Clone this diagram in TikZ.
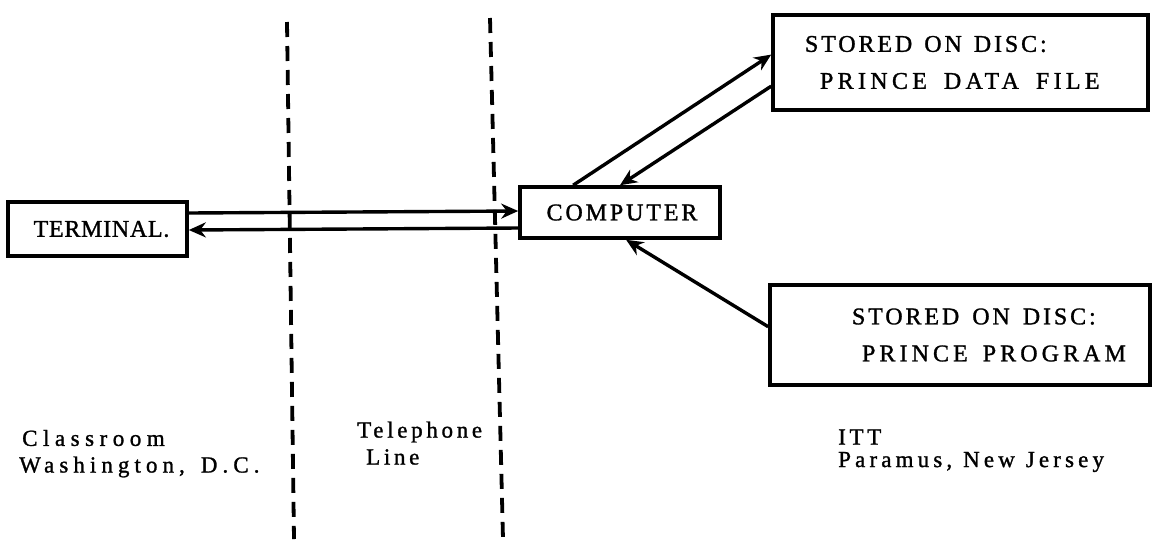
\documentclass[tikz,border=0pt]{standalone}
\usepackage{fontspec}
\setmainfont{Liberation Serif}[LetterSpace=12,FakeBold=1.2]
\usetikzlibrary{arrows.meta,calc}
\newcommand\myboxfont{\fontsize{24}{38}\selectfont}
\newcommand\mylabfont[1]{\fontsize{23}{24}\selectfont\addfontfeature{LetterSpace=#1}}
\newcommand\mywide[2]{\addfontfeature{LetterSpace=#1}\setlength{\spaceskip}{#2}}
\begin{document}
\begin{tikzpicture}[x=1pt,y=-1pt,
  box/.style={draw,line width=3.6pt,inner sep=0pt,font=\myboxfont},
  arr/.style={line width=3.4pt,-{Stealth[length=17pt,width=15pt]}},
  sep/.style={line width=3.8pt,dash pattern=on 15pt off 9pt},
  lab/.style={anchor=west,inner sep=0pt,font=\mylabfont{#1}},
  lab/.default=17]
\useasboundingbox (0,0) rectangle (1155,539);
% separators
\coordinate (s1t) at (287,22);
\coordinate (s1b) at (294,539);
\coordinate (s2t) at (490,18);
\coordinate (s2b) at (503,539);
\draw[sep] (s1t) -- (s1b);
\draw[sep] (s2t) -- (s2b);
% boxes
\node[box,minimum width=179pt,minimum height=54pt] (term) at (97.5,229) {\hspace*{8pt}{\addfontfeature{LetterSpace=3}TERMINAL.}};
\node[box,minimum width=200pt,minimum height=51pt] (comp) at (620,212.5) {\hspace*{4pt}COMPUTER};
\node[box,minimum width=375pt,minimum height=95pt,text width=375pt,align=left] (data) at (960.5,62.5)
  {\hspace*{32pt}{\mywide{12}{12pt}STORED ON DISC:}\\[-1pt]\hspace*{47pt}{\mywide{18}{17pt}PRINCE DATA FILE}};
\node[box,minimum width=380pt,minimum height=100pt,text width=380pt,align=left] (prog) at (960,335)
  {\hspace*{82pt}{\mywide{12}{13pt}STORED ON DISC:}\\[-1pt]\hspace*{92pt}{\mywide{17}{15pt}PRINCE PROGRAM}};
% connectors
\draw[arr] (term.east |- 0,213) -- (comp.west |- 0,211);
\draw[arr] (comp.west |- 0,228) -- (term.east |- 0,230);
\draw[arr] ($(comp.north west)!0.27!(comp.north east)$) -- ($(data.north west)!0.42!(data.south west)$);
\draw[arr] ($(data.north west)!0.74!(data.south west)$) -- ($(comp.north west)!0.5!(comp.north east)$);
\draw[arr] ($(prog.north west)!0.42!(prog.south west)$) -- ($(comp.south west)!0.53!(comp.south east)$);
% labels
\node[lab=24] (l1) at (22,438) {Classroom};
\node[lab=22] (l2) at (19,467) {\setlength{\spaceskip}{16pt}Washington, D.C.};
\node[lab=16] (l3) at (357,432) {Telephone};
\node[lab=16] (l4) at (366,457) {Line};
\node[lab=16] (l5) at (838,437) {ITT};
\node[lab=18] (l6) at (838,462) {\setlength{\spaceskip}{11pt}Paramus, New Jersey};
\end{tikzpicture}
\end{document}
